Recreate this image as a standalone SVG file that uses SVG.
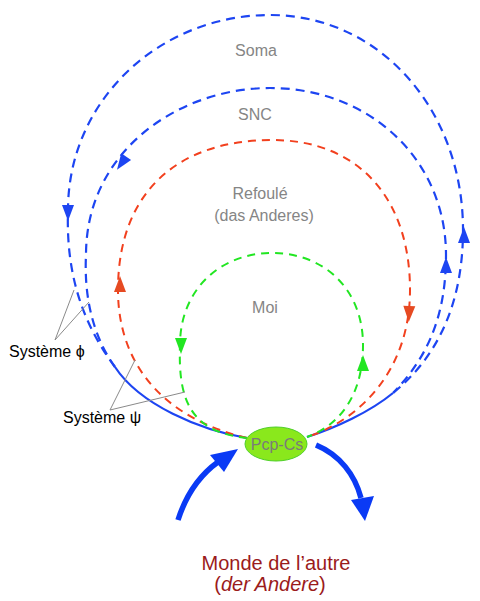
<svg xmlns="http://www.w3.org/2000/svg" xmlns:xlink="http://www.w3.org/1999/xlink" width="480" height="601" viewBox="0 0 480 601">
<defs>
<style>
.lbl{font-family:"Liberation Sans",Arial,sans-serif;font-size:16px;fill:#858585;text-anchor:middle}
.sys{font-family:"Liberation Sans",Arial,sans-serif;font-size:16px;fill:#000}
.monde{font-family:"Liberation Sans",Arial,sans-serif;font-size:20px;fill:#9b1b1b;text-anchor:middle}
.blue{fill:none;stroke:#1d45f2;stroke-width:2.2;stroke-dasharray:9 6}
.red{fill:none;stroke:#f2401e;stroke-width:2;stroke-dasharray:8 6}
.green{fill:none;stroke:#22e622;stroke-width:2;stroke-dasharray:8 6}
.solid{fill:none;stroke:#1d45f2;stroke-width:2.2}
.leader{fill:none;stroke:#8a8a8a;stroke-width:1}
.big{fill:none;stroke:#0a3af5;stroke-width:5.5}
</style>
<path id="ah" d="M7,0 L-9,-6 L-9,6 Z"/>
</defs>
<g id="connectors">
<path id="soma-loop" class="blue" d="M115,367 C80,320 66,270 68,210 C68,100 160,15 270,15 C380,15 463,110 463,230 C463,300 440,355 393,393"/>
<path id="snc-loop" class="blue" d="M115,367 C92,335 84,295 86,255 C86,150 180,88 270,88 C370,88 446,160 446,255 C446,320 425,360 393,393"/>
<path id="solid-left" class="solid" d="M247,438 C200,430 140,405 115,367"/>
<path id="solid-right" class="solid" d="M307,437 C335,428 370,412 393,393"/>
<path id="refoule-loop" class="red" d="M247,438 C170,420 118,370 118,290 C118,190 180,140 272,140 C360,140 410,200 410,290 C410,370 360,420 307,437"/>
<path id="moi-loop" class="green" d="M247,438 C190,432 178,400 180,345 C180,290 220,253 272,253 C325,253 363,290 363,345 C363,395 340,425 307,437"/>
<use href="#ah" fill="#1d45f2" transform="translate(68,214) rotate(90)"/>
<use href="#ah" fill="#1d45f2" transform="translate(464,234) rotate(-90)"/>
<use href="#ah" fill="#1d45f2" transform="translate(121,164) rotate(125)"/>
<use href="#ah" fill="#1d45f2" transform="translate(446,264) rotate(-90)"/>
<use href="#ah" fill="#e64a22" transform="translate(120,283) rotate(-90)"/>
<use href="#ah" fill="#e64a22" transform="translate(409,315) rotate(92)"/>
<use href="#ah" fill="#22e622" transform="translate(181,347) rotate(90)"/>
<use href="#ah" fill="#22e622" transform="translate(363,362) rotate(-90)"/>
<path class="leader" d="M74,290 L55,340 L89,302"/>
<path class="leader" d="M135,360 L110,410 L185,392"/>
<path class="big" d="M178,520 C186,495 200,475 218,462"/>
<polygon fill="#0a3af5" points="210,455 224,472 238,449"/>
<path class="big" d="M316,445 C340,455 355,475 361,498"/>
<polygon fill="#0a3af5" points="351,500 374,496 365,521"/>
</g>
<g id="soma"><text class="lbl" x="256" y="56">Soma</text></g>
<g id="snc"><text class="lbl" x="255" y="120">SNC</text></g>
<g id="refoule"><text class="lbl" x="260" y="199">Refoulé</text><text class="lbl" x="264" y="221">(das Anderes)</text></g>
<g id="moi"><text class="lbl" x="265" y="313">Moi</text></g>
<g id="pcp-cs"><ellipse cx="276" cy="444" rx="31" ry="17" fill="#8ae81c" stroke="#4fd02a" stroke-width="1"/><text class="lbl" x="277" y="450" style="fill:#7a7a7a">Pcp-Cs</text></g>
<g id="systeme-phi"><text class="sys" x="9" y="357">Système ϕ</text></g>
<g id="systeme-psi"><text class="sys" x="63" y="423">Système ψ</text></g>
<g id="monde"><text class="monde" x="276" y="570">Monde de l’autre</text><text class="monde" x="270" y="591">(<tspan font-style="italic">der Andere</tspan>)</text></g>
</svg>
